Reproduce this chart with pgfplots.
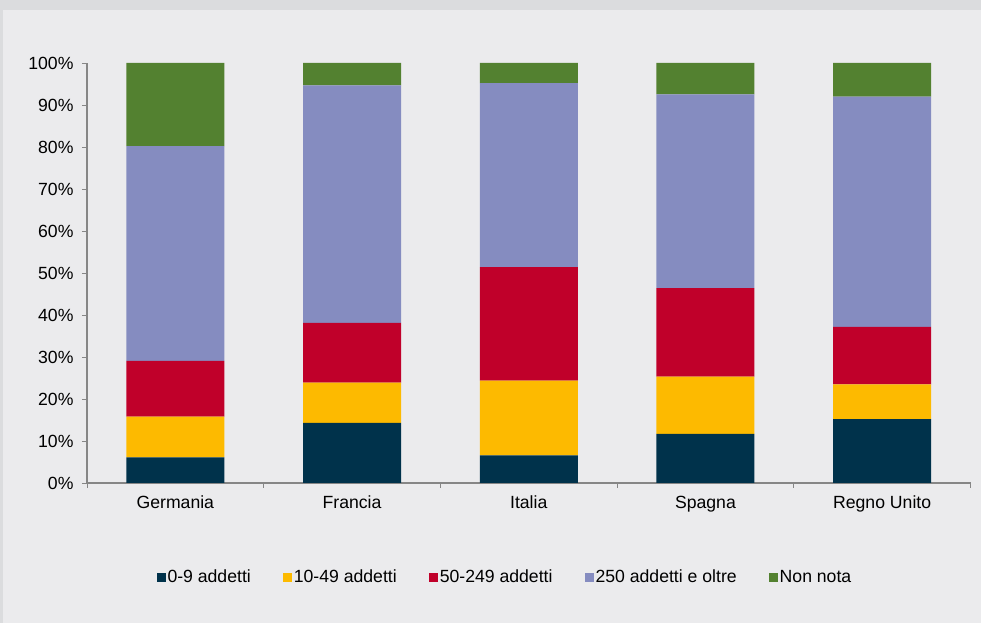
\documentclass[border=0pt]{standalone}
\usepackage{fontspec}
\setmainfont{Liberation Sans}
\usepackage{pgfplots}
\pgfplotsset{compat=1.18}
\definecolor{bg}{HTML}{EBEBED}
\definecolor{frm}{HTML}{DBDCDE}
\definecolor{cnavy}{HTML}{00324B}
\definecolor{cyellow}{HTML}{FDBA00}
\definecolor{cred}{HTML}{C0002A}
\definecolor{cpurple}{HTML}{858CC0}
\definecolor{cgreen}{HTML}{538130}
\definecolor{axgray}{HTML}{868686}
\begin{document}
\begin{tikzpicture}
\fill[frm] (0bp,0bp) rectangle (981bp,623bp);
\fill[bg] (3bp,0bp) rectangle (981bp,613bp);
\useasboundingbox (0bp,0bp) rectangle (981bp,623bp);
\begin{axis}[
  at={(87bp,140bp)}, anchor=south west,
  scale only axis, width=883.5bp, height=420bp,
  ybar stacked, bar width=98bp,
  xmin=-0.5, xmax=4.5, ymin=0, ymax=100,
  axis x line*=bottom, axis y line*=left,
  axis line style={axgray, line width=1.2bp, -},
  tick align=outside, major tick length=5bp,
  tick style={axgray, line width=0.8bp},
  xtick={-0.5,0.5,1.5,2.5,3.5,4.5}, xticklabels={},
  extra x ticks={0,1,2,3,4},
  extra x tick labels={Germania,Francia,Italia,Spagna,Regno Unito},
  extra x tick style={major tick length=0bp, tick style={draw=none}},
  ytick={0,10,...,100},
  yticklabel={\pgfmathprintnumber{\tick}\%},
  /pgf/number format/assume math mode=true,
  tick label style={font=\fontsize{17.7}{20}\selectfont, black},
  xticklabel style={yshift=-9bp, text height=13bp, text depth=4bp},
  yticklabel style={xshift=-5bp},
  legend columns=5,
  legend style={at={(0.473,-0.224)}, anchor=center, draw=none, fill=none,
    font=\fontsize{17.7}{20}\selectfont,
    nodes={inner xsep=1.5bp},
    /tikz/every even column/.append style={column sep=31bp}},
  legend image code/.code={\fill[#1] (0bp,-4.5bp) rectangle (9bp,4.5bp);},
]
\addplot[fill=cnavy, draw=none] coordinates {(0,6.1) (1,14.3) (2,6.6) (3,11.7) (4,15.2)};
\addplot[fill=cyellow, draw=none] coordinates {(0,9.7) (1,9.6) (2,17.8) (3,13.6) (4,8.3)};
\addplot[fill=cred, draw=none] coordinates {(0,13.3) (1,14.2) (2,27.0) (3,21.1) (4,13.7)};
\addplot[fill=cpurple, draw=none] coordinates {(0,51.1) (1,56.6) (2,43.8) (3,46.1) (4,54.8)};
\addplot[fill=cgreen, draw=none] coordinates {(0,19.8) (1,5.3) (2,4.8) (3,7.5) (4,8.0)};
\legend{0-9 addetti,10-49 addetti,50-249 addetti,250 addetti e oltre,Non nota}
\end{axis}
\end{tikzpicture}
\end{document}
